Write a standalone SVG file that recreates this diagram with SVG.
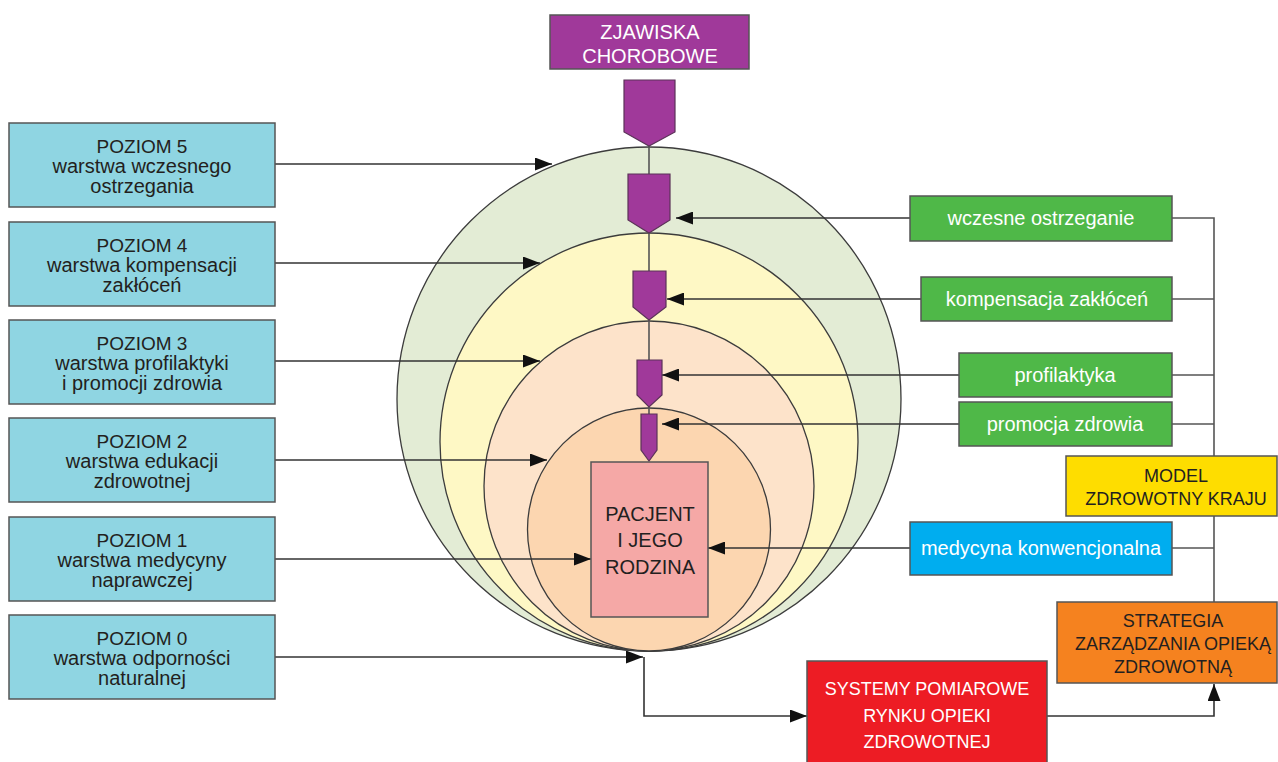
<svg xmlns="http://www.w3.org/2000/svg" width="1278" height="762" viewBox="0 0 1278 762">
<defs>
<style>
.ring{stroke:#3c3c3c;stroke-width:1.3}
.conn{fill:none;stroke:#333;stroke-width:1.6}
.chain{fill:none;stroke:#555;stroke-width:1.6}
.lvl rect{fill:#8fd5e2;stroke:#555;stroke-width:1.5}
.t{font-family:"Liberation Sans",Arial,sans-serif;text-anchor:middle}
.dark{fill:#231f20}
.white{fill:#fff}
.pent{fill:#a0399a;stroke:#5b3358;stroke-width:1.2}
.box{stroke:#555;stroke-width:1.5}
</style>
<marker id="arr" viewBox="0 0 17 13" refX="17" refY="6.5" markerWidth="17" markerHeight="13" markerUnits="userSpaceOnUse" orient="auto">
<path d="M0,0 L17,6.5 L0,13 Z" fill="#111"/>
</marker>
</defs>
<rect width="1278" height="762" fill="#fff"/>

<g id="rings">
<circle class="ring" cx="649" cy="399" r="252" fill="#e3ecd5"/>
<circle class="ring" cx="649" cy="442" r="209" fill="#fef8c5"/>
<circle class="ring" cx="649" cy="486" r="165" fill="#fde3ca"/>
<circle class="ring" cx="649" cy="529.5" r="121.5" fill="#fcd6b0"/>
</g>

<g id="connectors">
<path class="chain" d="M649,146 V174 M649,233 V271 M649,320 V360 M649,407 V414"/>
<path class="conn" d="M275,164 H552" marker-end="url(#arr)"/>
<path class="conn" d="M275,263 H540" marker-end="url(#arr)"/>
<path class="conn" d="M275,361 H540" marker-end="url(#arr)"/>
<path class="conn" d="M275,460 H547" marker-end="url(#arr)"/>
<path class="conn" d="M275,559 H591" marker-end="url(#arr)"/>
<path class="conn" d="M275,657 H643" marker-end="url(#arr)"/>
<path class="conn" d="M644,657 V716 H807" marker-end="url(#arr)"/>
<path class="conn" d="M910,218 H676" marker-end="url(#arr)"/>
<path class="conn" d="M921,299 H667" marker-end="url(#arr)"/>
<path class="conn" d="M959,375 H662" marker-end="url(#arr)"/>
<path class="conn" d="M959,424 H662" marker-end="url(#arr)"/>
<path class="conn" d="M910,548 H708" marker-end="url(#arr)"/>
<path class="chain" d="M1172,218 H1214 V602 M1172,299 H1214 M1172,375 H1214 M1172,424 H1214 M1172,548 H1214"/>
<path class="conn" d="M1047,716 H1214 V684" marker-end="url(#arr)"/>
</g>

<g id="zjawiska">
<rect class="box" x="550" y="15" width="199" height="54" fill="#a0399a"/>
<text class="t white" x="650" y="39" font-size="20">ZJAWISKA</text>
<text class="t white" x="650" y="63" font-size="20">CHOROBOWE</text>
</g>

<g id="pentagons">
<polygon class="pent" points="624,80 675,80 675,132 649,146 624,132"/>
<polygon class="pent" points="628,174 670,174 670,220 649,233 628,220"/>
<polygon class="pent" points="633,271 666,271 666,307 649,320 633,307"/>
<polygon class="pent" points="637,360 662,360 662,395 649,407 637,395"/>
<polygon class="pent" points="641,414 657,414 657,450 649,461 641,450"/>
</g>

<g id="pacjent">
<rect class="box" x="591" y="462" width="117" height="155" fill="#f5a8a6"/>
<text class="t dark" x="650" y="521" font-size="20">PACJENT</text>
<text class="t dark" x="650" y="547" font-size="20">I JEGO</text>
<text class="t dark" x="650" y="574" font-size="20">RODZINA</text>
</g>

<g id="poziom5" class="lvl">
<rect x="9" y="123" width="266" height="84"/>
<text class="t dark" x="142" y="153" font-size="19">POZIOM 5</text>
<text class="t dark" x="142" y="173" font-size="20">warstwa wczesnego</text>
<text class="t dark" x="142" y="193" font-size="20">ostrzegania</text>
</g>
<g id="poziom4" class="lvl">
<rect x="9" y="222" width="266" height="84"/>
<text class="t dark" x="142" y="252" font-size="19">POZIOM 4</text>
<text class="t dark" x="142" y="272" font-size="20">warstwa kompensacji</text>
<text class="t dark" x="142" y="292" font-size="20">zakłóceń</text>
</g>
<g id="poziom3" class="lvl">
<rect x="9" y="320" width="266" height="84"/>
<text class="t dark" x="142" y="350" font-size="19">POZIOM 3</text>
<text class="t dark" x="142" y="370" font-size="20">warstwa profilaktyki</text>
<text class="t dark" x="142" y="390" font-size="20">i promocji zdrowia</text>
</g>
<g id="poziom2" class="lvl">
<rect x="9" y="418" width="266" height="84"/>
<text class="t dark" x="142" y="448" font-size="19">POZIOM 2</text>
<text class="t dark" x="142" y="468" font-size="20">warstwa edukacji</text>
<text class="t dark" x="142" y="488" font-size="20">zdrowotnej</text>
</g>
<g id="poziom1" class="lvl">
<rect x="9" y="517" width="266" height="84"/>
<text class="t dark" x="142" y="547" font-size="19">POZIOM 1</text>
<text class="t dark" x="142" y="567" font-size="20">warstwa medycyny</text>
<text class="t dark" x="142" y="587" font-size="20">naprawczej</text>
</g>
<g id="poziom0" class="lvl">
<rect x="9" y="615" width="266" height="84"/>
<text class="t dark" x="142" y="645" font-size="19">POZIOM 0</text>
<text class="t dark" x="142" y="665" font-size="20">warstwa odporności</text>
<text class="t dark" x="142" y="685" font-size="20">naturalnej</text>
</g>

<g id="wczesne">
<rect class="box" x="910" y="196" width="262" height="45" fill="#4fb848"/>
<text class="t white" x="1041" y="225" font-size="20">wczesne ostrzeganie</text>
</g>
<g id="kompensacja">
<rect class="box" x="921" y="277" width="251" height="44" fill="#4fb848"/>
<text class="t white" x="1047" y="306" font-size="20">kompensacja zakłóceń</text>
</g>
<g id="profilaktyka">
<rect class="box" x="959" y="353" width="213" height="44" fill="#4fb848"/>
<text class="t white" x="1065" y="382" font-size="20">profilaktyka</text>
</g>
<g id="promocja">
<rect class="box" x="959" y="402" width="213" height="44" fill="#4fb848"/>
<text class="t white" x="1065" y="431" font-size="20">promocja zdrowia</text>
</g>
<g id="medycyna">
<rect class="box" x="910" y="522" width="262" height="53" fill="#00adef"/>
<text class="t white" x="1041" y="555" font-size="20">medycyna konwencjonalna</text>
</g>
<g id="model">
<rect class="box" x="1066" y="456" width="211" height="60" fill="#fedd00"/>
<text class="t dark" x="1176" y="482" font-size="18">MODEL</text>
<text class="t dark" x="1176" y="505" font-size="18">ZDROWOTNY KRAJU</text>
</g>
<g id="strategia">
<rect class="box" x="1057" y="602" width="220" height="81" fill="#f5821f"/>
<text class="t dark" x="1173" y="627" font-size="18">STRATEGIA</text>
<text class="t dark" x="1173" y="650" font-size="18">ZARZĄDZANIA OPIEKĄ</text>
<text class="t dark" x="1173" y="673" font-size="18">ZDROWOTNĄ</text>
</g>
<g id="systemy">
<rect class="box" x="807" y="661" width="240" height="104" fill="#ed1c24"/>
<text class="t white" x="927" y="695" font-size="18">SYSTEMY POMIAROWE</text>
<text class="t white" x="927" y="722" font-size="18">RYNKU OPIEKI</text>
<text class="t white" x="927" y="748" font-size="18">ZDROWOTNEJ</text>
</g>
</svg>
